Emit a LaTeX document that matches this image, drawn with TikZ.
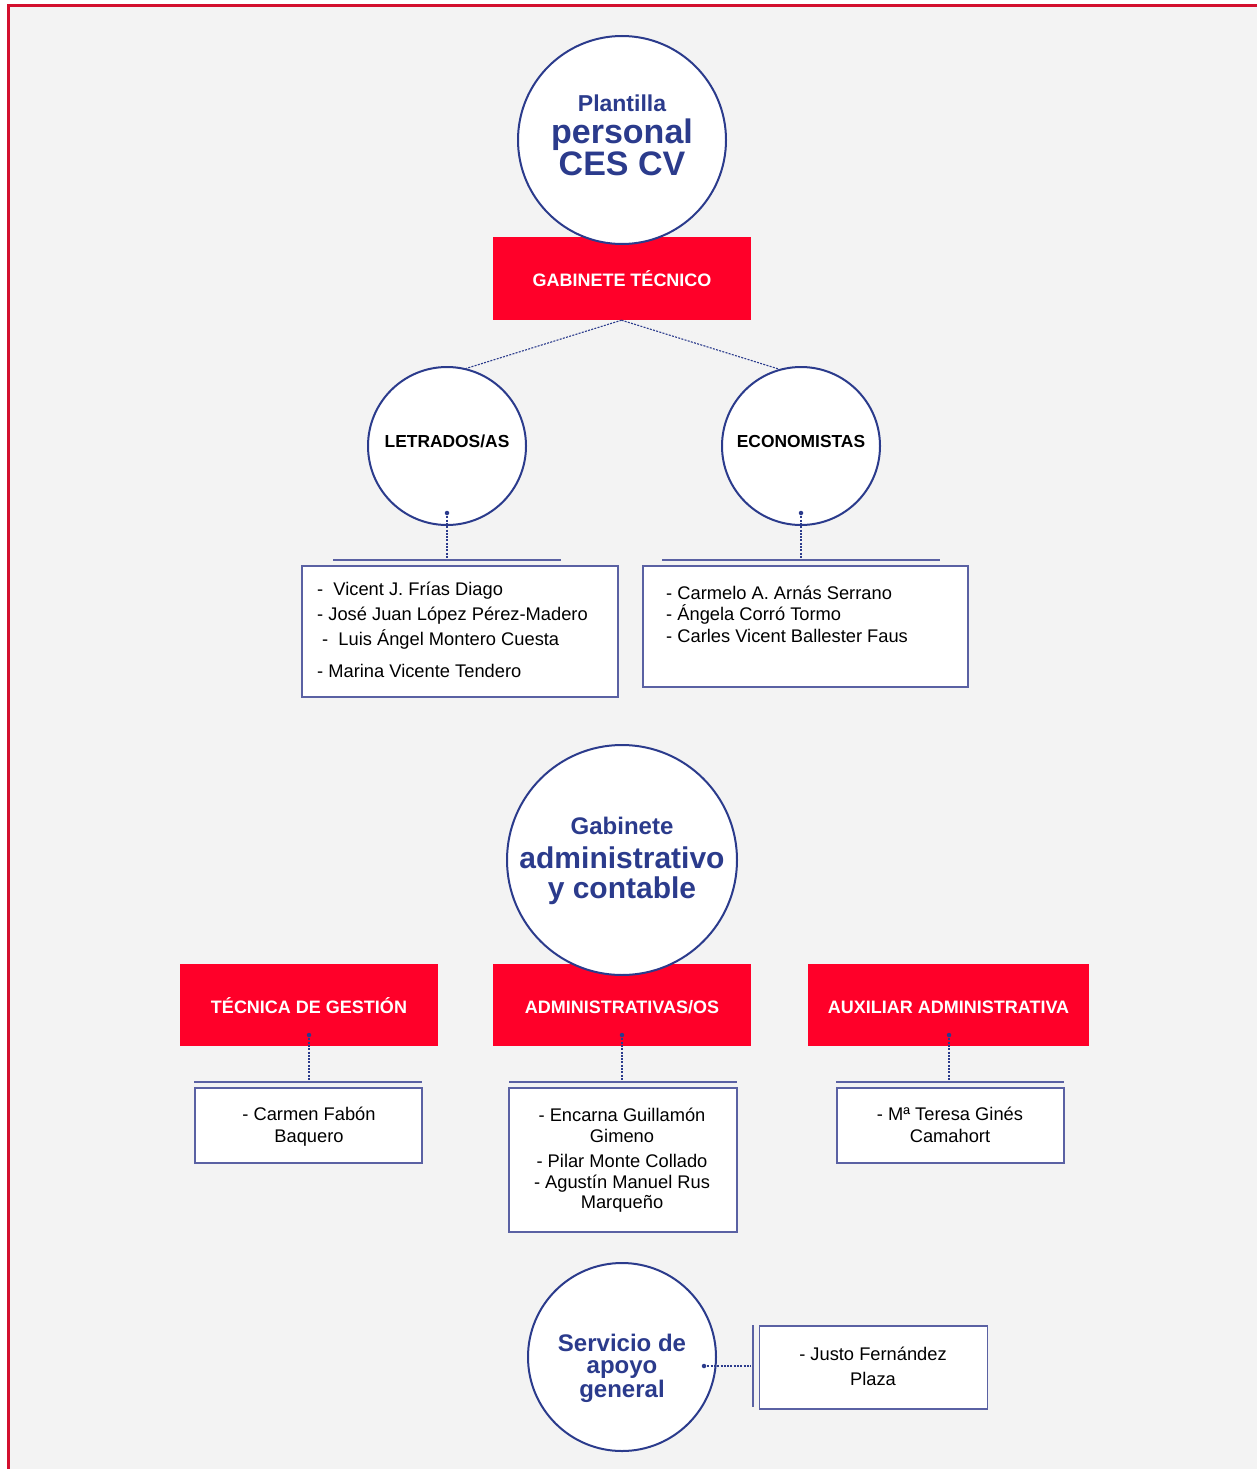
\documentclass[tikz,border=0pt]{standalone}
\usepackage{fontspec}
\setmainfont{Liberation Sans}
\definecolor{navy}{HTML}{2B3B8C}
\definecolor{boxline}{HTML}{5A61A3}
\definecolor{redbox}{HTML}{FF0029}
\definecolor{frame}{HTML}{D3102E}
\definecolor{bgc}{HTML}{F3F3F3}
\begin{document}
\begin{tikzpicture}[x=1pt,y=-1pt,
  circ/.style={circle,draw=navy,line width=2pt,fill=white,inner sep=0pt},
  redbx/.style={rectangle,fill=redbox,draw=none,inner sep=0pt},
  namebox/.style={rectangle,draw=boxline,line width=1.4pt,fill=white,inner sep=0pt},
  sep/.style={draw=boxline,line width=1.4pt},
  dotline/.style={draw=navy,line width=1.1pt,dash pattern=on 2pt off 1.3pt},
  ttl/.style={text=navy,anchor=base,inner sep=0pt},
  redtxt/.style={font=\fontsize{18}{20}\selectfont\bfseries,text=white,anchor=base,inner sep=0pt},
  circtxt/.style={font=\fontsize{17.4}{20}\selectfont\bfseries,text=black,anchor=base,inner sep=0pt},
  nm/.style={font=\fontsize{18.3}{20}\selectfont,text=black,anchor=base west,inner sep=0pt},
  nmc/.style={font=\fontsize{18.3}{20}\selectfont,text=black,anchor=base,inner sep=0pt},
  dotc/.style={circle,fill=navy,inner sep=0pt,minimum size=4.5pt}
]
\useasboundingbox (0,0) rectangle (1257,1469);
\fill[white] (0,0) rectangle (1257,1469);
\fill[bgc] (8,6) rectangle (1257,1469);
\draw[frame,line width=3pt] (8,1469) -- (8,6) -- (1257,6);

% ---------- Gabinete tecnico ----------
\node[redbx,minimum width=258pt,minimum height=83pt] (gt) at (621.5,278.5) {};
\node[redtxt] (gtt) at (622,286) {GABINETE TÉCNICO};
\node[circ,minimum size=208pt] (top) at (622,140) {};
\node[ttl,font=\fontsize{23}{26}\selectfont\bfseries] (t1) at (622,112) {Plantilla};
\node[ttl,font=\fontsize{34}{36}\selectfont\bfseries] (t2) at (622,143) {personal};
\node[ttl,font=\fontsize{34}{36}\selectfont\bfseries] (t3) at (622,175) {CES CV};

\node[circ,minimum size=158pt] (letr) at (447,446) {};
\node[circtxt] (letrt) at (447,447) {LETRADOS/AS};
\node[circ,minimum size=158pt] (econ) at (801,446) {};
\node[circtxt] (econt) at (801,447) {ECONOMISTAS};

\draw[dotline] (gt.south) -- (letr.76);
\draw[dotline] (gt.south) -- (econ.106);

% letrados list
\node[dotc] (d1) at (447,513) {};
\coordinate (s1) at (447,560);
\draw[dotline] (d1.center) -- (s1);
\coordinate (s1a) at (333,560);
\coordinate (s1b) at (561,560);
\draw[sep] (s1a) -- (s1b);
\node[namebox,minimum width=316pt,minimum height=131pt] (lbox) at (460,631.5) {};
\node[nm] (l1) at (317,595) {-\ \ Vicent J. Frías Diago};
\node[nm] (l2) at (317,620) {- José Juan López Pérez-Madero};
\node[nm] (l3) at (322,645) {-\ \ Luis Ángel Montero Cuesta};
\node[nm] (l4) at (317,677) {- Marina Vicente Tendero};

% economistas list
\node[dotc] (d2) at (801,513) {};
\coordinate (s2) at (801,560);
\draw[dotline] (d2.center) -- (s2);
\coordinate (s2a) at (662,560);
\coordinate (s2b) at (940,560);
\draw[sep] (s2a) -- (s2b);
\node[namebox,minimum width=325pt,minimum height=121pt] (ebox) at (805.5,626.5) {};
\node[nm] (e1) at (666,599) {- Carmelo A. Arnás Serrano};
\node[nm] (e2) at (666,620) {- Ángela Corró Tormo};
\node[nm] (e3) at (666,642) {- Carles Vicent Ballester Faus};

% ---------- Gabinete administrativo ----------
\node[redbx,minimum width=258pt,minimum height=82pt] (tg) at (309,1005) {};
\node[redtxt] (tgt) at (309,1013) {TÉCNICA DE GESTIÓN};
\node[redbx,minimum width=258pt,minimum height=82pt] (adm) at (622,1005) {};
\node[redtxt] (admt) at (622,1013) {ADMINISTRATIVAS/OS};
\node[redbx,minimum width=281pt,minimum height=82pt] (aux) at (948.5,1005) {};
\node[redtxt] (auxt) at (948.5,1013) {AUXILIAR ADMINISTRATIVA};

\node[circ,minimum size=230pt] (mid) at (622,860) {};
\node[ttl,font=\fontsize{24}{26}\selectfont\bfseries] (m1) at (622,834) {Gabinete};
\node[ttl,font=\fontsize{30}{32}\selectfont\bfseries] (m2) at (622,868) {administrativo};
\node[ttl,font=\fontsize{30}{32}\selectfont\bfseries] (m3) at (622,898) {y contable};

% tecnica list
\node[dotc] (d3) at (309,1035) {};
\coordinate (s3) at (309,1082);
\draw[dotline] (d3.center) -- (s3);
\coordinate (s3a) at (194,1082);
\coordinate (s3b) at (422,1082);
\draw[sep] (s3a) -- (s3b);
\node[namebox,minimum width=227pt,minimum height=75pt] (tbox) at (308.5,1125.5) {};
\node[nmc] (tb1) at (309,1120) {- Carmen Fabón};
\node[nmc] (tb2) at (309,1142) {Baquero};

% administrativas list
\node[dotc] (d4) at (622,1035) {};
\coordinate (s4) at (622,1082);
\draw[dotline] (d4.center) -- (s4);
\coordinate (s4a) at (509,1082);
\coordinate (s4b) at (737,1082);
\draw[sep] (s4a) -- (s4b);
\node[namebox,minimum width=228pt,minimum height=144pt] (abox) at (623,1160) {};
\node[nmc] (ab1) at (622,1121) {- Encarna Guillamón};
\node[nmc] (ab2) at (622,1142) {Gimeno};
\node[nmc] (ab3) at (622,1167) {- Pilar Monte Collado};
\node[nmc] (ab4) at (622,1188) {- Agustín Manuel Rus};
\node[nmc] (ab5) at (622,1208) {Marqueño};

% auxiliar list
\node[dotc] (d5) at (949,1035) {};
\coordinate (s5) at (949,1082);
\draw[dotline] (d5.center) -- (s5);
\coordinate (s5a) at (836,1082);
\coordinate (s5b) at (1064,1082);
\draw[sep] (s5a) -- (s5b);
\node[namebox,minimum width=227pt,minimum height=75pt] (xbox) at (950.5,1125.5) {};
\node[nmc] (xb1) at (950,1120) {- Mª Teresa Ginés};
\node[nmc] (xb2) at (950,1142) {Camahort};

% ---------- Servicio de apoyo ----------
\node[circ,minimum size=188pt] (serv) at (622,1357) {};
\node[ttl,font=\fontsize{24}{26}\selectfont\bfseries] (sv1) at (622,1351) {Servicio de};
\node[ttl,font=\fontsize{24}{26}\selectfont\bfseries] (sv2) at (622,1373) {apoyo};
\node[ttl,font=\fontsize{24}{26}\selectfont\bfseries] (sv3) at (622,1397) {general};

\node[dotc] (d6) at (704,1366) {};
\coordinate (s6) at (751,1366);
\draw[dotline] (d6.center) -- (s6);
\coordinate (s6a) at (753,1325);
\coordinate (s6b) at (753,1407);
\draw[sep] (s6a) -- (s6b);
\node[namebox,minimum width=228pt,minimum height=83pt] (jbox) at (873.5,1367.5) {};
\node[nmc] (jb1) at (873,1360) {- Justo Fernández};
\node[nmc] (jb2) at (873,1385) {Plaza};
\end{tikzpicture}
\end{document}
